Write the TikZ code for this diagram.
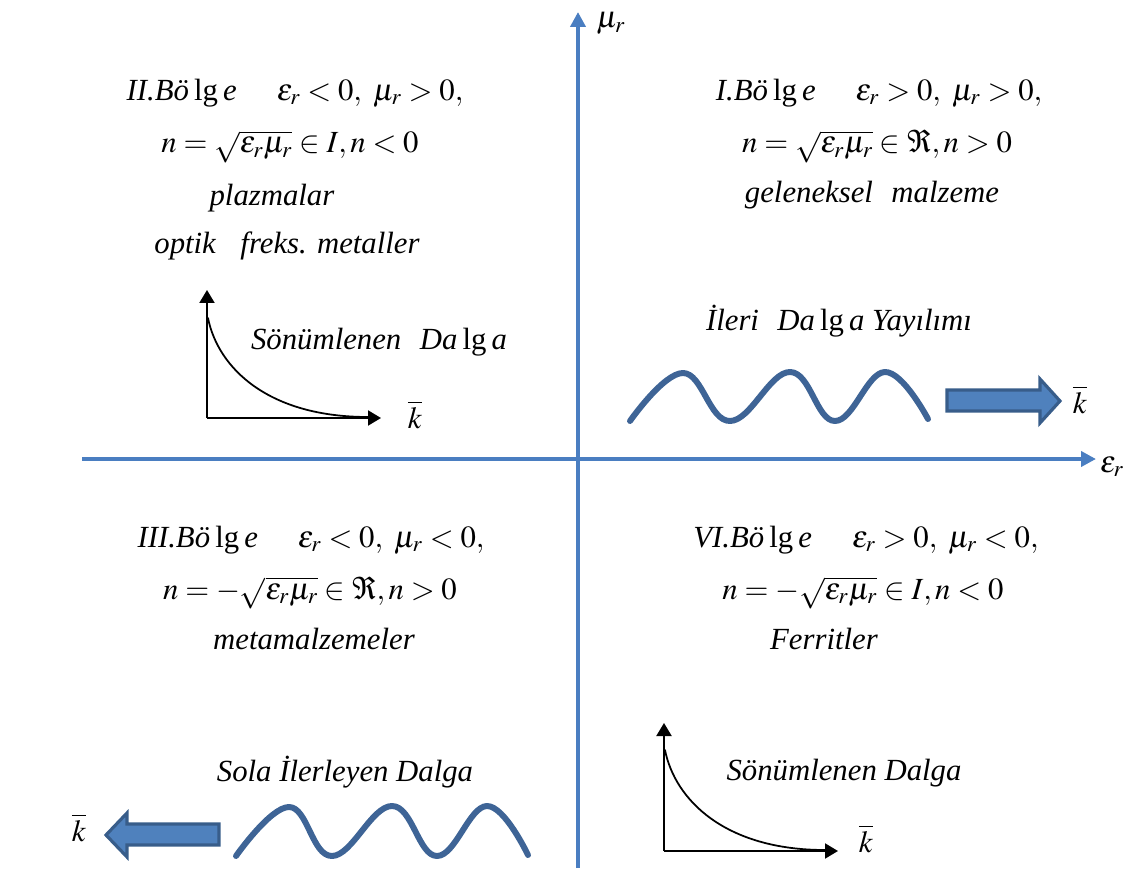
\documentclass[tikz,border=0pt]{standalone}
\usepackage{mathptmx}
\usepackage{fontspec}
\setmainfont{Liberation Serif}
\usetikzlibrary{arrows.meta}
\definecolor{axisblue}{RGB}{74,126,193}
\definecolor{waveblue}{RGB}{62,100,150}
\definecolor{arrfill}{RGB}{79,129,189}
\definecolor{arrdraw}{RGB}{56,93,138}
\tikzset{
    lab/.style={
        font=\fontsize{17.5}{21}\selectfont
    }
}

\begin{document}
\begin{tikzpicture}[x=0.02cm,y=-0.02cm, line cap=round, line join=round]

\tikzset{
  axis/.style={draw=axisblue, line width=2.6pt, line cap=butt, -{Triangle[length=0.3cm,width=0.3cm]}},
  wave/.style={draw=waveblue, line width=3.4pt},
  blockarr/.style={fill=arrfill, draw=arrdraw, line width=1.8pt, line join=miter},
  small/.style={draw=black, line width=1.1pt, line cap=butt, -{Triangle[length=0.26cm,width=0.3cm]}},
  decay/.style={draw=black, line width=1pt},
  txt/.style={lab, inner sep=0pt, anchor=base},
}

\useasboundingbox (0,0) rectangle (1134,872);

% axes
\coordinate (O) at (578,459);
\coordinate (xl) at (82,459);
\coordinate (xr) at (1096,459);
\coordinate (yb) at (578,868);
\coordinate (yt) at (578,12);
\draw[axis] (xl) -- (xr);
\draw[axis] (yb) -- (yt);
\node[txt] (epsr) at (1112,472) {$\varepsilon_r$};
\node[txt] (mur) at (611,28) {$\mu_r$};

% I. bolge
\node[txt] (q1head) at (879,100) {\textit{I.Bö}\,lg\,\textit{e}\hspace{1.3em}$\varepsilon_r>0,\ \mu_r>0,$};
\node[txt] (q1index) at (877,153) {$n=\sqrt{\varepsilon_r\mu_r}\in\Re,n>0$};
\node[txt] (q1kind) at (872,202) {\textit{geleneksel\hspace{0.6em}malzeme}};

% II. bolge
\node[txt] (q2head) at (295,100) {\textit{II.Bö}\,lg\,\textit{e}\hspace{1.3em}$\varepsilon_r<0,\ \mu_r>0,$};
\node[txt] (q2index) at (290,153) {$n=\sqrt{\varepsilon_r\mu_r}\in I,n<0$};
\node[txt] (q2kind) at (272,205) {\textit{plazmalar}};
\node[txt] (q2freq) at (287,253) {\textit{optik\hspace{0.8em}freks. metaller}};

% III. bolge
\node[txt] (q3head) at (311,547) {\textit{III.Bö}\,lg\,\textit{e}\hspace{1.3em}$\varepsilon_r<0,\ \mu_r<0,$};
\node[txt] (q3index) at (310,599) {$n=-\sqrt{\varepsilon_r\mu_r}\in\Re,n>0$};
\node[txt] (q3kind) at (314,649) {\textit{metamalzemeler}};

% VI. bolge
\node[txt] (q4head) at (866,547) {\textit{VI.Bö}\,lg\,\textit{e}\hspace{1.3em}$\varepsilon_r>0,\ \mu_r<0,$};
\node[txt] (q4index) at (863,599) {$n=-\sqrt{\varepsilon_r\mu_r}\in I,n<0$};
\node[txt] (q4kind) at (824,649) {\textit{Ferritler}};

% sonumlenen dalga (sol ust)
\coordinate (g1o) at (207,418);
\coordinate (g1y) at (207,290);
\coordinate (g1x) at (381,418);
\draw[small] (g1o) -- (g1y);
\draw[small] (g1o) -- (g1x);
\draw[decay] (208,318) .. controls (218,368) and (268,417) .. (368,417);
\node[txt] (g1lab) at (379,349) {\textit{Sönümlenen\hspace{0.6em}Da}\,lg\,\textit{a}};
\node[txt] (g1k) at (415,428) {$\overline{k}$};

% sonumlenen dalga (sag alt)
\coordinate (g2o) at (664,851);
\coordinate (g2y) at (664,723);
\coordinate (g2x) at (838,851);
\draw[small] (g2o) -- (g2y);
\draw[small] (g2o) -- (g2x);
\draw[decay] (665,750) .. controls (675,800) and (725,850) .. (825,850);
\node[txt] (g2lab) at (844,780) {\textit{Sönümlenen Dalga}};
\node[txt] (g2k) at (866,852) {$\overline{k}$};

% ileri dalga
\node[txt] (fwdlab) at (839,330) {\textit{İleri\hspace{0.6em}Da}\,lg\,\textit{a Yayılımı}};
\draw[wave] plot[smooth, tension=0.7] coordinates {(630,421) (683,373) (730,421) (790,372) (835,421) (885,372) (928,419)};
\draw[blockarr] (947,390) -- (1040,390) -- (1040,379) -- (1060,401) -- (1040,423) -- (1040,411) -- (947,411) -- cycle;
\node[txt] (fwdk) at (1080,413) {$\overline{k}$};

% sola ilerleyen dalga
\node[txt] (bwdlab) at (345,781) {\textit{Sola İlerleyen Dalga}};
\draw[wave] plot[smooth, tension=0.7] coordinates {(236,856) (289,807) (332,856) (392,806) (437,856) (487,806) (528,855)};
\draw[blockarr] (219,824) -- (127,824) -- (127,813) -- (106,835) -- (127,857) -- (127,845) -- (219,845) -- cycle;
\node[txt] (bwdk) at (79,841) {$\overline{k}$};

\end{tikzpicture}
\end{document}
